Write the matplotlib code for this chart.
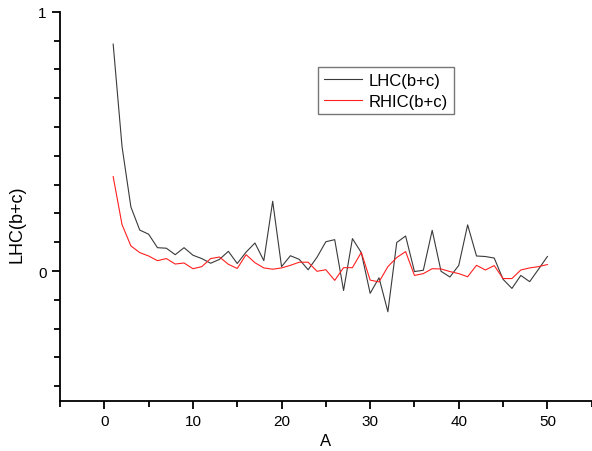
import matplotlib.pyplot as plt
from matplotlib.ticker import MultipleLocator, FixedLocator
import numpy as np

plt.rcParams['font.family'] = ['Liberation Sans', 'DejaVu Sans']

a = list(range(1, 51))
lhc = [0.875, 0.48, 0.247, 0.158, 0.142, 0.09, 0.088, 0.063, 0.09, 0.061,
       0.048, 0.03, 0.045, 0.076, 0.029, 0.073, 0.108, 0.04, 0.269, 0.017,
       0.059, 0.045, 0.005, 0.053, 0.113, 0.121, -0.075, 0.125, 0.071, -0.086,
       -0.026, -0.157, 0.11, 0.135, -0.002, 0.003, 0.157, -0.001, -0.023, 0.022,
       0.178, 0.058, 0.056, 0.05, -0.032, -0.067, -0.017, -0.041, 0.007, 0.056]
rhic = [0.364, 0.179, 0.097, 0.071, 0.058, 0.04, 0.048, 0.027, 0.031, 0.009,
        0.017, 0.048, 0.054, 0.026, 0.01, 0.063, 0.032, 0.012, 0.007, 0.012,
        0.022, 0.034, 0.034, -0.001, 0.005, -0.036, 0.013, 0.013, 0.072, -0.035,
        -0.042, 0.017, 0.052, 0.075, -0.017, -0.01, 0.009, 0.008, -0.002, -0.01,
        -0.022, 0.022, 0.004, 0.021, -0.029, -0.029, 0.004, 0.012, 0.017, 0.025]

fig = plt.figure(figsize=(5.92, 4.52), dpi=100)
ax = fig.add_axes([60 / 592, 1 - 401.7 / 452, 531.7 / 592, 389 / 452])

ax.plot(a, lhc, color='#3a3a3a', lw=0.8, label='LHC(b+c)')
ax.plot(a, rhic, color='#ff2020', lw=0.8, label='RHIC(b+c)')

ax.set_xlim(-5, 55)
ax.set_ylim(-0.5, 1)
ax.spines['top'].set_visible(False)
ax.spines['right'].set_visible(False)
ax.spines['left'].set_linewidth(1.3)
ax.spines['bottom'].set_linewidth(1.3)

ax.xaxis.set_major_locator(MultipleLocator(10))
ax.xaxis.set_minor_locator(MultipleLocator(5))
ax.yaxis.set_major_locator(MultipleLocator(1))
ax.yaxis.set_minor_locator(FixedLocator([k / 9 for k in range(-4, 9) if k != 0]))
ax.tick_params(which='major', direction='out', length=6, width=1.3, labelsize=11)
ax.tick_params(which='minor', direction='out', length=4, width=1.3)

ax.set_xlabel('A', fontsize=12)
fig.text(17 / 592, 1 - 224 / 452, 'LHC(b+c)', fontsize=13, rotation=90,
         ha='center', va='center')

leg = ax.legend(loc='upper left', bbox_to_anchor=(0.485, 0.858), fontsize=12,
                frameon=True, fancybox=False, handlelength=2.3,
                borderpad=0.35, labelspacing=0.35, handletextpad=0.4,
                borderaxespad=0)
leg.get_frame().set_edgecolor('#555555')
leg.get_frame().set_linewidth(1.0)

fig.savefig('out.png', dpi=100)
